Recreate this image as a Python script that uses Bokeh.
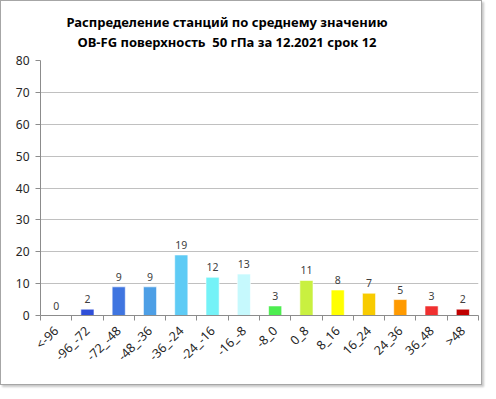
import math
from bokeh.plotting import figure
from bokeh.models import ColumnDataSource, FixedTicker, Range1d, Div
from bokeh.layouts import column
from bokeh.core.properties import value
from bokeh.embed import file_html
from bokeh.resources import INLINE

categories = ["<-96", "-96_-72", "-72_-48", "-48_-36", "-36_-24", "-24_-16", "-16_-8",
              "-8_0", "0_8", "8_16", "16_24", "24_36", "36_48", ">48"]
counts = [0, 2, 9, 9, 19, 12, 13, 3, 11, 8, 7, 5, 3, 2]
colors = ["#2f4fd8", "#2f4fd8", "#3f75e0", "#4d9fe6", "#5ecbf5", "#74f2f7", "#c6f9fd",
          "#4ded50", "#c9f040", "#ffff00", "#f8cb00", "#ff9a00", "#f03030", "#c00000"]
y_ticks = [0, 10, 20, 30, 40, 50, 60, 70, 80]
title_lines = ["Распределение станций по среднему значению",
               "OB-FG поверхность  50 гПа за 12.2021 срок 12"]

centers = [i + 0.5 for i in range(len(categories))]
bounds = list(range(len(categories) + 1))

src = ColumnDataSource(dict(x=centers, top=counts, color=colors,
                            label=[str(c) for c in counts]))

W = 480
TITLE_H = 51
H = 383 - TITLE_H
p = figure(width=W, height=H, output_backend="svg", toolbar_location=None,
           x_range=Range1d(0, len(categories)), y_range=Range1d(0, 80),
           min_border_left=39, min_border_right=3, min_border_top=8, min_border_bottom=69)
p.outline_line_color = None
p.background_fill_color = "white"
p.border_fill_color = "white"

p.vbar(x="x", top="top", width=0.42, bottom=0, fill_color="color",
       line_color="white", line_alpha=0.6, line_width=1, source=src)
p.text(x="x", y="top", text="label", source=src, y_offset=-6,
       text_align="center", text_baseline="bottom",
       text_font=value("Noto Sans"), text_font_size="10.5px", text_color="#404040")

# axes
p.xaxis.ticker = FixedTicker(ticks=centers, minor_ticks=bounds)
p.xaxis.major_label_overrides = {c: lab for c, lab in zip(centers, categories)}
p.xaxis.major_label_orientation = math.pi / 4
p.xaxis.major_tick_out = 0
p.xaxis.major_tick_in = 0
p.xaxis.minor_tick_out = 5
p.xaxis.minor_tick_in = 0
p.xaxis.major_label_standoff = 8
p.yaxis.ticker = FixedTicker(ticks=y_ticks)
p.yaxis.major_tick_out = 5
p.yaxis.major_tick_in = 0
p.yaxis.major_label_standoff = 6
for ax in (p.xaxis, p.yaxis):
    ax.axis_line_color = "#8c8c8c"
    ax.major_tick_line_color = "#8c8c8c"
    ax.major_label_text_font = "Noto Sans"
    ax.major_label_text_color = "#262626"
p.xaxis.major_label_text_font_size = "12.5px"
p.yaxis.major_label_text_font_size = "12px"
p.xaxis.minor_tick_line_color = "#8c8c8c"
p.yaxis.minor_tick_line_color = None

p.xgrid.grid_line_color = None
p.ygrid.ticker = FixedTicker(ticks=y_ticks)
p.ygrid.grid_line_color = "#c0c0c0"

title_html = ("<div style=\"width:452px; padding-top:11px; text-align:center; "
              "font-family:'Noto Sans'; font-weight:bold; font-size:13px; "
              "line-height:20px; color:#000; white-space:pre;\">"
              + "<br>".join(title_lines) + "</div>")
title = Div(text=title_html, width=W, height=TITLE_H,
            styles={"background-color": "white", "margin": "0", "padding": "0"})

layout = column(title, p, spacing=0,
                styles={"border": "1px solid #a6a6a6",
                        "box-shadow": "2px 2px 2px #c8c8c8",
                        "background-color": "white"})

open("out.html", "w").write(file_html(layout, INLINE))
